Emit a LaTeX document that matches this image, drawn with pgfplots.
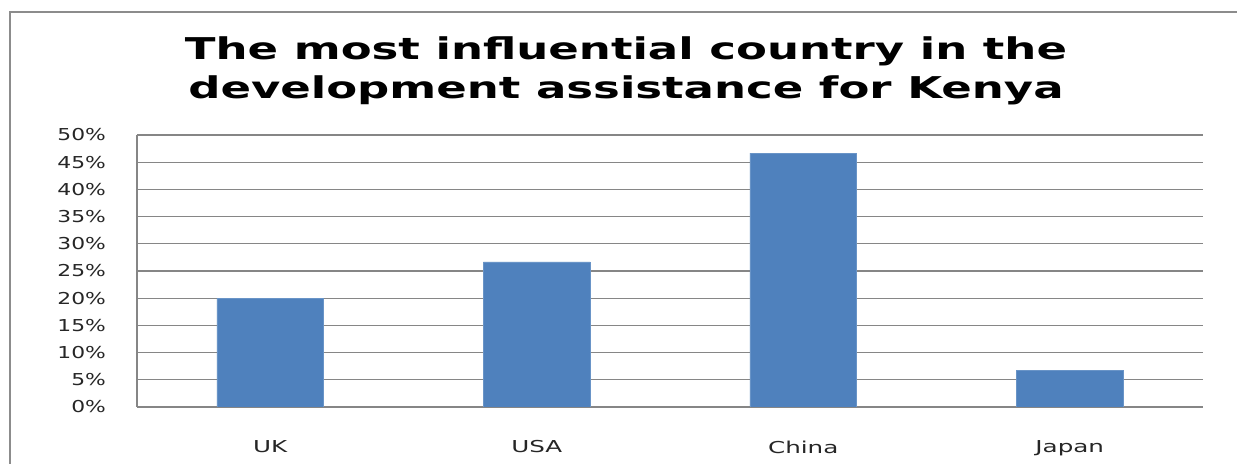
\documentclass[border=0pt]{standalone}
\usepackage{fontspec}
\setmainfont{DejaVu Sans}
\usepackage{graphicx}
\usepackage{pgfplots}
\pgfplotsset{compat=1.18}
\definecolor{barblue}{HTML}{4F81BD}
\definecolor{gridgray}{HTML}{868686}
\definecolor{framegray}{HTML}{8C8C8C}
\newcommand\sx[1]{\scalebox{1.5}[1]{#1}}
\newcommand\sy[1]{\scalebox{1.33}[1]{#1}}
\begin{document}
\begin{tikzpicture}[x=1pt,y=1pt]
\useasboundingbox[fill=white] (0,0) rectangle (618.5,232);
\draw[framegray,line width=1pt] (4.75,0) -- (4.75,226) -- (620,226);
\node[anchor=base,font=\fontsize{15}{18}\selectfont\bfseries] at (313,202) {\sx{The most influential country in the}};
\node[anchor=base,font=\fontsize{15}{18}\selectfont\bfseries] at (313,182.5) {\sx{development assistance for Kenya}};
\begin{axis}[
  at={(68.5pt,28.5pt)}, anchor=south west,
  scale only axis, width=533pt, height=136pt,
  xmin=-0.5, xmax=3.5, ymin=0, ymax=50,
  axis x line*=bottom, axis y line*=left,
  axis line style={gridgray,-,line width=0.6pt},
  ymajorgrids, grid style={gridgray,line width=0.6pt},
  xtick={0,1,2,3},
  xticklabels={\sx{UK},\sx{USA},\sx{China},\sx{Japan}},
  ytick={0,5,...,50},
  yticklabels={\sy{0\%},\sy{5\%},\sy{10\%},\sy{15\%},\sy{20\%},\sy{25\%},\sy{30\%},\sy{35\%},\sy{40\%},\sy{45\%},\sy{50\%}},
  tick style={draw=none},
  ticklabel style={font=\fontsize{8.2}{10}\selectfont, text=black!85},
  yticklabel style={xshift=-12pt},
  xticklabel style={yshift=-9pt},
  ybar, bar width=0.4,
]
\addplot[fill=barblue, draw=barblue!85!white] coordinates {(0,20) (1,26.67) (2,46.67) (3,6.67)};
\end{axis}
\end{tikzpicture}
\end{document}
